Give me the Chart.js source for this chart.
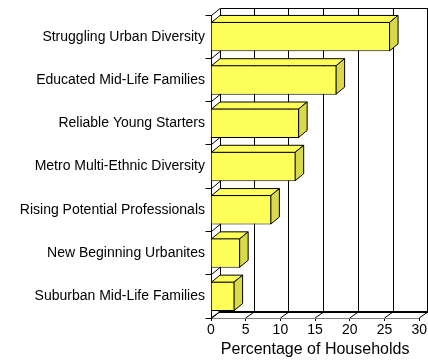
<!DOCTYPE html>
<html>
<head>
<meta charset="utf-8">
<script src="https://cdn.jsdelivr.net/npm/chart.js@4/dist/chart.umd.min.js"></script>
<style>
  body { margin: 0; background: #fff; }
  canvas { display: block; }
</style>
</head>
<body>
<canvas id="householdChart" width="428" height="362"></canvas>
<script>
// segment names, top to bottom
var segments = [
    'Struggling Urban Diversity',
    'Educated Mid-Life Families',
    'Reliable Young Starters',
    'Metro Multi-Ethnic Diversity',
    'Rising Potential Professionals',
    'New Beginning Urbanites',
    'Suburban Mid-Life Families'
];

// percentage of households in each segment
var householdShare = [25.8, 18.1, 12.7, 12.2, 8.7, 4.2, 3.4];

// value axis ticks
var axisMin = 0;
var axisMax = 30;
var axisStep = 5;

// depth of the 3d box (x shift, y shift)
var DEPTH_X = 8.5;
var DEPTH_Y = -7;

var FONT = "'Liberation Sans', Arial, sans-serif";

//draws a line from a to b
function line(ctx, x1, y1, x2, y2) {
    ctx.beginPath();
    ctx.moveTo(x1, y1);
    ctx.lineTo(x2, y2);
    ctx.stroke();
}

//draws a filled and outlined polygon
function polygon(ctx, pts, fill) {
    ctx.beginPath();
    ctx.moveTo(pts[0][0], pts[0][1]);
    for (var i = 1; i < pts.length; i++) {
        ctx.lineTo(pts[i][0], pts[i][1]);
    }
    ctx.closePath();
    ctx.fillStyle = fill;
    ctx.fill();
    ctx.stroke();
}

//walls, floor and axes of the 3d box
var boxPlugin = {
    id: 'box3d',
    beforeDatasetsDraw: function(chart) {
        var ctx = chart.ctx;
        var area = chart.chartArea;
        var xs = chart.scales.x;
        var ys = chart.scales.y;
        var left = Math.floor(area.left) + 0.5;
        var top = area.top;
        var bottom = area.bottom;
        var backTop = Math.round(top + DEPTH_Y) + 0.5;
        var backBottom = bottom + DEPTH_Y;

        ctx.save();
        ctx.lineWidth = 1;
        ctx.strokeStyle = '#000';

        //back wall top and left edges
        line(ctx, Math.floor(left + DEPTH_X) + 0.5, backTop, chart.width, backTop);
        line(ctx, Math.floor(left + DEPTH_X) + 0.5, backTop, Math.floor(left + DEPTH_X) + 0.5, backBottom);

        //gridlines on the back wall and their floor diagonals
        for (var v = axisMin; v <= axisMax; v += axisStep) {
            var px = xs.getPixelForValue(v);
            var bx = Math.floor(px + DEPTH_X) + 0.5;
            if (v > axisMin) {
                line(ctx, bx, backTop, bx, backBottom);
            }
            line(ctx, px + DEPTH_X, backBottom + 1, px, bottom);
            line(ctx, Math.floor(px) + 0.5, bottom, Math.floor(px) + 0.5, bottom + 3);
        }

        //floor front edge
        ctx.strokeStyle = '#808080';
        line(ctx, area.left, Math.floor(bottom) + 0.5, area.right, Math.floor(bottom) + 0.5);

        //floor back edge
        ctx.strokeStyle = '#000';
        ctx.lineWidth = 2;
        line(ctx, area.left + DEPTH_X - 1, Math.round(backBottom) + 1, chart.width, Math.round(backBottom) + 1);

        //category axis with ticks on the band edges
        ctx.lineWidth = 1;
        line(ctx, left, top, left, bottom);
        var band = (bottom - top) / segments.length;
        for (var i = 0; i <= segments.length; i++) {
            var ty = Math.floor(top + band * i) + 0.5;
            line(ctx, left - 6, ty, left, ty);
            line(ctx, left, ty, left + DEPTH_X, ty + DEPTH_Y);
        }
        ctx.restore();
    },
    afterDatasetsDraw: function(chart) {
        var ctx = chart.ctx;
        var bars = chart.getDatasetMeta(0).data;
        ctx.save();
        ctx.lineWidth = 1;
        ctx.strokeStyle = '#000';
        bars.forEach(function(bar) {
            var x0 = bar.base;
            var x1 = bar.x - 0.5;
            var t = bar.y - bar.height / 2 + 0.5;
            var b = bar.y + bar.height / 2 - 0.5;
            //top face
            polygon(ctx, [[x0, t], [x0 + DEPTH_X, t + DEPTH_Y], [x1 + DEPTH_X, t + DEPTH_Y], [x1, t]], '#ffff5a');
            //end face
            polygon(ctx, [[x1, t], [x1 + DEPTH_X, t + DEPTH_Y], [x1 + DEPTH_X, b + DEPTH_Y], [x1, b]], '#d9d94c');
        });
        ctx.restore();
    }
};

var ctx = document.getElementById('householdChart').getContext('2d');

new Chart(ctx, {
    type: 'bar',
    data: {
        labels: segments,
        datasets: [{
            data: householdShare,
            backgroundColor: '#ffff5a',
            borderColor: '#000',
            borderWidth: 1,
            barPercentage: 0.68,
            categoryPercentage: 1
        }]
    },
    options: {
        indexAxis: 'y',
        responsive: false,
        animation: false,
        layout: {
            padding: { top: 15, right: 8, left: 0, bottom: 0 }
        },
        plugins: {
            legend: { display: false },
            tooltip: { enabled: false }
        },
        scales: {
            x: {
                min: axisMin,
                max: axisMax,
                ticks: {
                    stepSize: axisStep,
                    color: '#000',
                    padding: 1,
                    font: { family: FONT, size: 14 }
                },
                grid: { color: 'transparent', drawOnChartArea: false, tickLength: 3 },
                border: { display: false },
                title: {
                    display: true,
                    text: 'Percentage of Households',
                    color: '#000',
                    padding: { top: 0, bottom: 3 },
                    font: { family: FONT, size: 16 }
                },
                afterFit: function(scale) {
                    scale.height = 44;
                }
            },
            y: {
                ticks: {
                    color: '#000',
                    padding: 1,
                    font: { family: FONT, size: 14 }
                },
                grid: { color: 'transparent', drawOnChartArea: false, tickLength: 5 },
                border: { display: false },
                afterFit: function(scale) {
                    scale.width = 211;
                }
            }
        }
    },
    plugins: [boxPlugin]
});
</script>
</body>
</html>
